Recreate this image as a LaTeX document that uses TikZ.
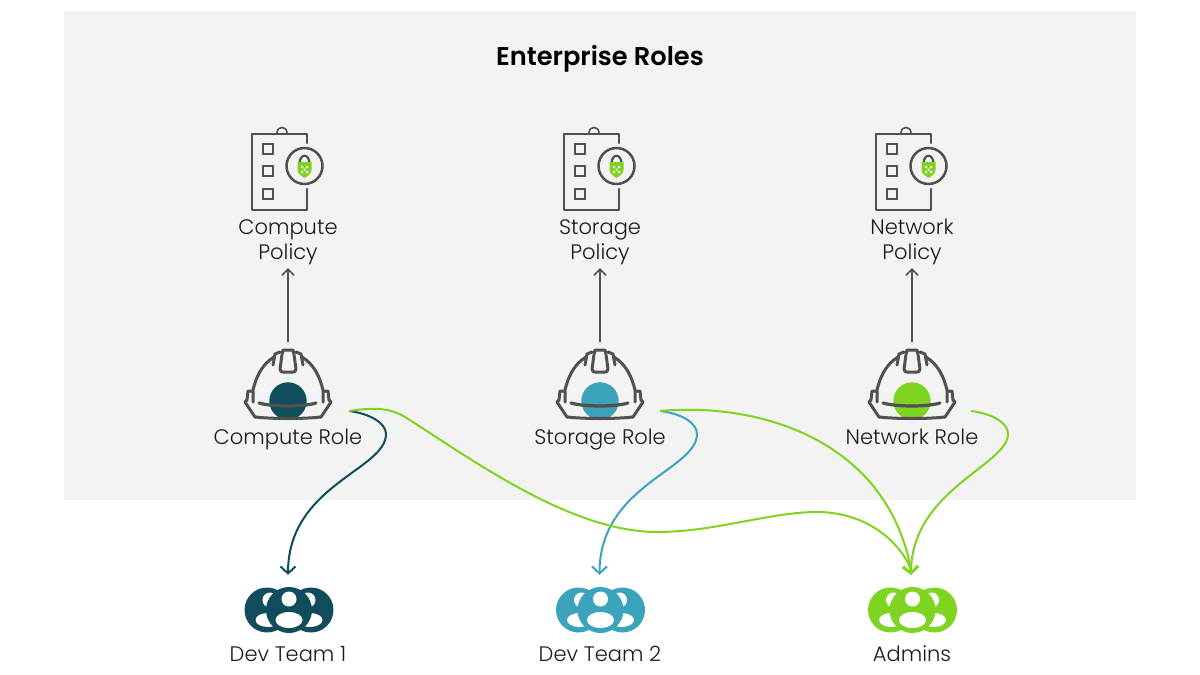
\documentclass[tikz,border=0pt]{standalone}
\usepackage{fontspec}
\setmainfont{Poppins}[UprightFont=* Light,BoldFont=* SemiBold]
\usetikzlibrary{arrows.meta}
\definecolor{panel}{HTML}{F3F3F3}
\definecolor{icon}{HTML}{505050}
\definecolor{teal}{HTML}{0F4C5C}
\definecolor{sky}{HTML}{3BA3BC}
\definecolor{lime}{HTML}{7FD321}
\definecolor{ink}{HTML}{1A1A1A}
\newcommand{\ls}{\rule{0pt}{15pt}\rule[-7pt]{0pt}{7pt}}
\tikzset{
  lab/.style={font=\fontsize{21}{25}\selectfont,text=ink,align=center,inner sep=0pt},
  titlelab/.style={font=\fontsize{25.7}{30}\selectfont\bfseries,text=black,inner sep=0pt},
  iconbox/.style={inner sep=0pt,minimum width=90pt,minimum height=#1},
  iconline/.style={draw=icon,line width=2pt,line cap=round,line join=round},
  link/.style={line width=2pt,-{Straight Barb[length=7pt,width=15pt,line width=2pt]}},
  up/.style={draw=icon,line width=1.5pt,-{Straight Barb[length=6pt,width=12pt,line width=1.5pt]}}
}
\newcommand{\policyicon}[1]{%
 \begin{scope}[xshift=#1pt]
  \draw[iconline,line width=2.2pt] (19,143) -- (19,134) -- (-36,134) -- (-36,210) -- (19,210) -- (19,189);
  \draw[iconline,line width=1.6pt] (-11,133) .. controls (-11,125.5) and (-1,125.5) .. (-1,133);
  \foreach \yy in {149,171,194} \draw[iconline,line width=2.2pt,line cap=butt,line join=miter] (-25,\yy-5) rectangle (-15,\yy+5);
  \draw[iconline,line width=2.5pt] (16.5,166) circle[radius=18];
  \draw[iconline,line width=2.2pt] (11.5,164) .. controls (11.5,153) and (21.5,153) .. (21.5,164);
  \fill[lime] (9.5,162) -- (23.5,162) -- (23.5,170) .. controls (23.5,174) and (19,176) .. (16.5,178) .. controls (14,176) and (9.5,174) .. (9.5,170) -- cycle;
  \fill[white] (13,166) rectangle (15,168) (18,166) rectangle (20,168) (15.5,168.6) rectangle (17.5,170.6) (13,171.2) rectangle (15,173.2) (18,171.2) rectangle (20,173.2);
 \end{scope}}
\newcommand{\haticon}[2]{%
 \begin{scope}[xshift=#1pt]
  \fill[#2] (0,401) circle[radius=18.7];
  \draw[iconline,line width=3pt] (-35,390) .. controls (-32,378) and (-27,365) .. (-14,357) (35,390) .. controls (32,378) and (27,365) .. (14,357);
  \draw[iconline,line width=3pt] (-5,350) -- (5,350) .. controls (7,358) and (7,364) .. (8,369) .. controls (8,372) and (6,372) .. (5,372) -- (-5,372) .. controls (-6,372) and (-8,372) .. (-8,369) .. controls (-7,364) and (-7,358) .. (-5,350) -- cycle;
  \draw[iconline,line width=3pt] (-8,352) -- (-13,354) -- (-15,365) (8,352) -- (13,354) -- (15,365);
  \draw[iconline,line width=3pt] (-35,402) -- (-35,391) -- (-40,391) -- (-41,400) -- (-43,402) -- (-33,417) .. controls (-15,419) and (15,419) .. (33,417) -- (43,402) -- (41,400) -- (40,391) -- (35,391) -- (35,402);
  \draw[iconline,line width=3.2pt] (-29,403) .. controls (-15,407) and (15,407) .. (28,403);
 \end{scope}}
\newcommand{\peopleicon}[2]{%
 \begin{scope}[xshift=#1pt]
  \fill[#2] (-22,610) circle[radius=22.5] (22,610) circle[radius=22.5];
  \fill[white] (-19,600) circle[radius=7.5] (19,600) circle[radius=7.5];
  \fill[white] (-21,620) ellipse[x radius=12.5,y radius=7] (21,620) ellipse[x radius=12.5,y radius=7];
  \fill[#2] (0,610) circle[radius=23];
  \fill[white] (0,599) circle[radius=7.5];
  \fill[white] (0,620) ellipse[x radius=13.5,y radius=8];
 \end{scope}}
\begin{document}
\begin{tikzpicture}[x=1pt,y=-1pt]
 \useasboundingbox (0,0) rectangle (1200,675);
 \fill[panel] (64,11) rectangle (1136,500);
 \node[titlelab] (title) at (600,59) {\ls Enterprise Roles};

 \policyicon{288}\policyicon{600}\policyicon{912}
 \haticon{288}{teal}\haticon{600}{sky}\haticon{912}{lime}
 \peopleicon{289}{teal}\peopleicon{600.5}{sky}\peopleicon{912.5}{lime}

 \node[lab,minimum height=51pt] (computePolicy) at (288,242.5) {\ls Compute\\\ls Policy};
 \node[lab,minimum height=51pt] (storagePolicy) at (600,242.5) {\ls Storage\\\ls Policy};
 \node[lab,minimum height=51pt] (networkPolicy) at (912,242.5) {\ls Network\\\ls Policy};

 \node[iconbox=76pt] (computeHat) at (288,380) {};
 \node[iconbox=76pt] (storageHat) at (600,380) {};
 \node[iconbox=76pt] (networkHat) at (912,380) {};

 \node[lab] (computeRole) at (288,440) {\ls Compute Role};
 \node[lab] (storageRole) at (600,440) {\ls Storage Role};
 \node[lab] (networkRole) at (912,440) {\ls Network Role};

 \node[iconbox=60pt] (team1) at (288,605) {};
 \node[iconbox=60pt] (team2) at (599.5,605) {};
 \node[iconbox=60pt] (admins) at (911,605) {};

 \node[lab] (team1Label) at (288,657) {\ls Dev Team 1};
 \node[lab] (team2Label) at (600,657) {\ls Dev Team 2};
 \node[lab] (adminsLabel) at (912,657) {\ls Admins};

 \coordinate (computeOut) at (349,411);
 \coordinate (storageOut) at (660,411);
 \coordinate (networkOut) at (971,411);

 \draw[up] (computeHat.north) -- (computePolicy.south);
 \draw[up] (storageHat.north) -- (storagePolicy.south);
 \draw[up] (networkHat.north) -- (networkPolicy.south);

 \draw[link,draw=teal] (computeOut) .. controls (372,414) and (386,424) .. (386,434)
   .. controls (386,470) and (288,485) .. (team1.north);
 \draw[link,draw=sky] (storageOut) .. controls (684,414) and (697,424) .. (697,434)
   .. controls (697,470) and (599.5,485) .. (team2.north);
 \draw[link,draw=lime] (computeOut) .. controls (375,407) and (390,408) .. (405,417)
   .. controls (470,458) and (570,532) .. (657,532)
   .. controls (715,532) and (770,512) .. (817,512)
   .. controls (860,512) and (895,535) .. (910,567) -- (admins.north);
 \draw[link,draw=lime] (storageOut) .. controls (760,402) and (885,440) .. (910.5,567) -- (admins.north);
 \draw[link,draw=lime] (networkOut) .. controls (995,414) and (1008,424) .. (1008,434)
   .. controls (1008,465) and (911,490) .. (admins.north);
\end{tikzpicture}
\end{document}
